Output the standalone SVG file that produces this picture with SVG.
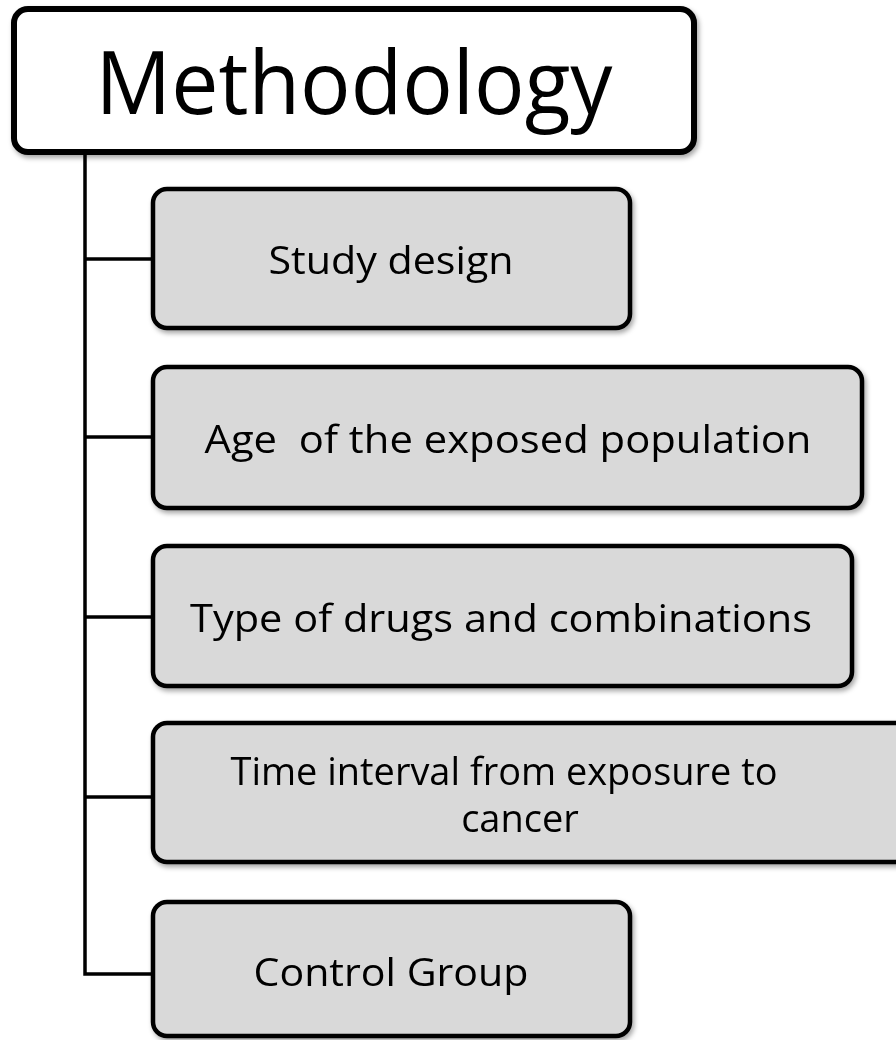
<svg xmlns="http://www.w3.org/2000/svg" width="896" height="1040" viewBox="0 0 896 1040">
<style>
.title{fill:#fff;stroke:#000;stroke-width:6}
.box{fill:#d9d9d9;stroke:#000;stroke-width:4.5}
.t{font-family:"Open Sans","Liberation Sans",sans-serif;font-size:38px;fill:#000;text-anchor:middle;white-space:pre}
.tt{font-family:"Open Sans","Liberation Sans",sans-serif;font-size:88px;fill:#000;text-anchor:middle}
.c{fill:none;stroke:#000;stroke-width:3.5}
</style>
<defs>
<filter id="sh" x="-5%" y="-5%" width="112%" height="115%">
<feDropShadow dx="2" dy="3" stdDeviation="2.5" flood-color="#000" flood-opacity="0.35"/>
</filter>
</defs>
<g id="connectors">
<path class="c" d="M85 152 V974 H153"/>
<path class="c" d="M85 259 H153"/>
<path class="c" d="M85 437 H153"/>
<path class="c" d="M85 617 H153"/>
<path class="c" d="M85 797 H153"/>
</g>
<g id="methodology" filter="url(#sh)">
<rect class="title" x="14" y="9" width="680" height="143" rx="14"/>
<text class="tt" x="354" y="114" textLength="517" lengthAdjust="spacingAndGlyphs">Methodology</text>
</g>
<g id="study-design" filter="url(#sh)">
<rect class="box" x="153" y="189" width="477" height="139" rx="14"/>
<text class="t" x="391" y="274" textLength="245" lengthAdjust="spacingAndGlyphs">Study design</text>
</g>
<g id="age" filter="url(#sh)">
<rect class="box" x="153" y="367" width="709" height="141" rx="14"/>
<text class="t" x="508" y="453" textLength="607" lengthAdjust="spacingAndGlyphs" xml:space="preserve">Age  of the exposed population</text>
</g>
<g id="drugs" filter="url(#sh)">
<rect class="box" x="153" y="546" width="699" height="140" rx="14"/>
<text class="t" x="501" y="632" textLength="622" lengthAdjust="spacingAndGlyphs">Type of drugs and combinations</text>
</g>
<g id="time-interval" filter="url(#sh)">
<rect class="box" x="153" y="723" width="760" height="139" rx="14"/>
<text class="t" x="504" y="785" textLength="547" lengthAdjust="spacingAndGlyphs">Time interval from exposure to</text>
<text class="t" x="520" y="832">cancer</text>
</g>
<g id="control-group" filter="url(#sh)">
<rect class="box" x="153" y="902" width="477" height="134" rx="14"/>
<text class="t" x="391" y="986" textLength="275" lengthAdjust="spacingAndGlyphs">Control Group</text>
</g>
</svg>
